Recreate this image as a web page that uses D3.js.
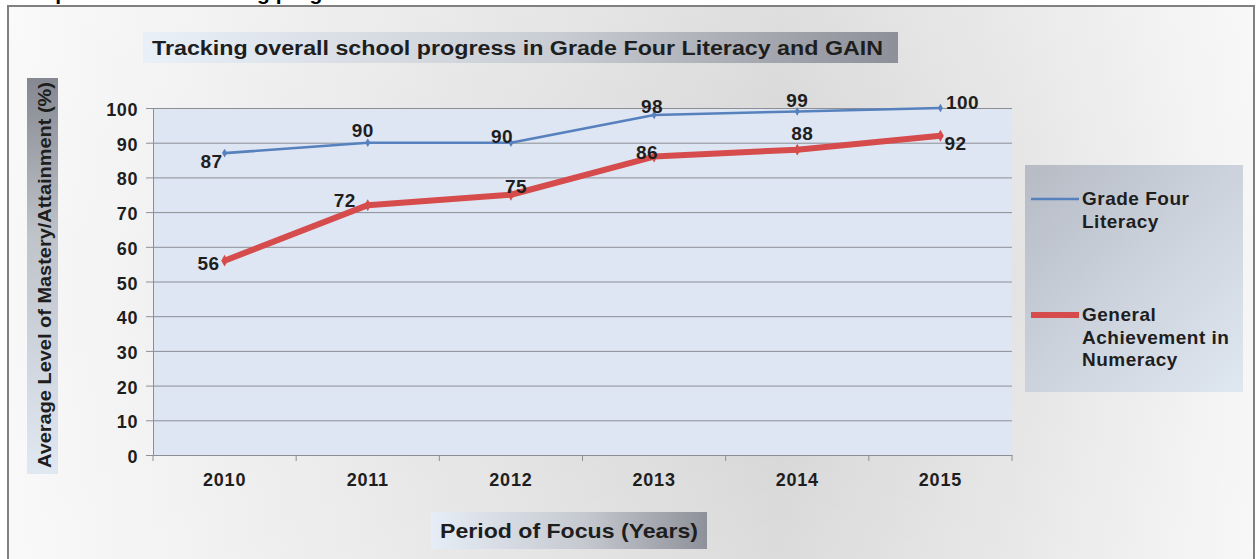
<!DOCTYPE html>
<html>
<head>
<meta charset="utf-8">
<script src="https://cdn.jsdelivr.net/npm/d3@7"></script>
<style>
  html, body { margin: 0; padding: 0; background: #ffffff; }
  svg { display: block; font-family: "Liberation Sans", Arial, sans-serif; }
</style>
</head>
<body>
<svg id="chart" width="1258" height="559"></svg>
<script>
// Chart data
const years = ["2010", "2011", "2012", "2013", "2014", "2015"];
const literacy = [87, 90, 90, 98, 99, 100];
const numeracy = [56, 72, 75, 86, 88, 92];
const yTicks = [0, 10, 20, 30, 40, 50, 60, 70, 80, 90, 100];
const seriesNames = ["Grade Four Literacy", "General Achievement in Numeracy"];

// Label nudges (dx, dy) relative to each point
const literacyLabelShift = [[-13, 15], [-5, -6], [-9, 0], [-2, -2], [0, -4], [22, 1]];
const numeracyLabelShift = [[-16, 9], [-23, 2], [5, -2], [-7, 2], [5, -10], [15, 14]];

const svg = d3.select("#chart");
const defs = svg.append("defs");

function linGrad(id, x2, y2, stops) {
  const g = defs.append("linearGradient").attr("id", id)
    .attr("x1", 0).attr("y1", 0).attr("x2", x2).attr("y2", y2);
  stops.forEach(s => g.append("stop").attr("offset", s[0]).attr("stop-color", s[1]));
}
linGrad("bgGrad", 1, 0, [["0%", "#f8f8f8"], ["20%", "#ececec"], ["62%", "#d3d3d3"], ["82%", "#e4e4e4"], ["100%", "#f6f6f6"]]);
linGrad("bgShade", 0, 1, [["0%", "rgba(255,255,255,0.25)"], ["50%", "rgba(255,255,255,0)"], ["100%", "rgba(255,255,255,0.2)"]]);
linGrad("titleGrad", 1, 0, [["0%", "#e9f0f8"], ["55%", "#c9ccd3"], ["100%", "#8d9098"]]);
linGrad("xTitleGrad", 1, 0, [["0%", "#e6edf6"], ["55%", "#c6c9d0"], ["100%", "#8e9199"]]);
linGrad("yTitleGrad", 0, 1, [["0%", "#858890"], ["40%", "#bfc3ca"], ["100%", "#e0e8f2"]]);
linGrad("legendGrad", 1, 1, [["0%", "#b6bbc4"], ["50%", "#ccd3dd"], ["100%", "#dfe7f1"]]);

// Page heading running off the top edge
svg.append("text")
  .attr("x", 19).attr("y", -0.5)
  .attr("font-size", 21).attr("font-weight", "bold").attr("fill", "#000")
  .text("Graph 4: Overall tracking progress");

// Chart frame and background
svg.append("rect").attr("x", 8).attr("y", 6).attr("width", 1246).attr("height", 560)
  .attr("fill", "url(#bgGrad)").attr("stroke", "#808080").attr("stroke-width", 2);
svg.append("rect").attr("x", 9).attr("y", 7).attr("width", 1244).attr("height", 552)
  .attr("fill", "url(#bgShade)");

// Chart title
svg.append("rect").attr("x", 143).attr("y", 32).attr("width", 755).attr("height", 31)
  .attr("fill", "url(#titleGrad)");
svg.append("text").attr("x", 152).attr("y", 54.5)
  .attr("font-size", 20).attr("font-weight", "bold").attr("fill", "#1e1e1e")
  .attr("textLength", 731).attr("lengthAdjust", "spacingAndGlyphs")
  .text("Tracking overall school progress in Grade Four Literacy and GAIN");

// Scales
const plot = { left: 153, right: 1012, top: 108, bottom: 455 };
const x = d3.scaleBand().domain(years).range([plot.left, plot.right]).padding(0);
const cx = d => x(d) + x.bandwidth() / 2;
const y = d3.scaleLinear().domain([0, 100]).range([plot.bottom, plot.top]);

// Plot area
svg.append("rect").attr("x", plot.left).attr("y", plot.top)
  .attr("width", plot.right - plot.left).attr("height", plot.bottom - plot.top)
  .attr("fill", "#dee5f3");

// Gridlines
svg.append("g").selectAll("line").data(yTicks.filter(t => t > 0)).join("line")
  .attr("x1", plot.left).attr("x2", plot.right)
  .attr("y1", d => y(d) + 0.5).attr("y2", d => y(d) + 0.5)
  .attr("stroke", "#8c8f96").attr("stroke-width", 1);

// Y axis
const yAxis = svg.append("g").attr("transform", `translate(${plot.left},0)`)
  .call(d3.axisLeft(y).tickValues(yTicks).tickSize(7).tickPadding(8));
yAxis.select(".domain").attr("stroke", "#8c8f96");
yAxis.selectAll(".tick line").attr("stroke", "#8c8f96");
yAxis.selectAll(".tick text").attr("font-size", 18).attr("font-weight", "bold")
  .attr("fill", "#1e1e1e").attr("font-family", "Liberation Sans, Arial, sans-serif")
  .attr("letter-spacing", 0.6).attr("dy", "0.42em");

// X axis
const xAxis = svg.append("g").attr("transform", `translate(0,${plot.bottom})`)
  .call(d3.axisBottom(x).tickSize(0).tickPadding(18));
xAxis.select(".domain").attr("stroke", "#8c8f96");
xAxis.selectAll(".tick text").attr("font-size", 18).attr("font-weight", "bold")
  .attr("fill", "#1e1e1e").attr("font-family", "Liberation Sans, Arial, sans-serif")
  .attr("letter-spacing", 0.8);
// category boundary ticks
const bounds = years.map(d => x(d)).concat([plot.right]);
svg.append("g").selectAll("line").data(bounds).join("line")
  .attr("x1", d => d).attr("x2", d => d)
  .attr("y1", plot.bottom).attr("y2", plot.bottom + 6)
  .attr("stroke", "#8c8f96");

// Axis titles
svg.append("rect").attr("x", 27).attr("y", 78).attr("width", 31).attr("height", 396)
  .attr("fill", "url(#yTitleGrad)");
svg.append("text").attr("transform", "translate(45,275) rotate(-90)")
  .attr("text-anchor", "middle").attr("dy", "0.36em")
  .attr("font-size", 18).attr("font-weight", "bold").attr("fill", "#1e1e1e")
  .attr("textLength", 386).attr("lengthAdjust", "spacingAndGlyphs")
  .text("Average Level of Mastery/Attainment (%)");

svg.append("rect").attr("x", 431).attr("y", 512).attr("width", 276).attr("height", 37)
  .attr("fill", "url(#xTitleGrad)");
svg.append("text").attr("x", 569).attr("y", 538)
  .attr("text-anchor", "middle")
  .attr("font-size", 21).attr("font-weight", "bold").attr("fill", "#1e1e1e")
  .attr("textLength", 258).attr("lengthAdjust", "spacingAndGlyphs")
  .text("Period of Focus (Years)");

// Series lines
const line = d3.line().x((d, i) => cx(years[i])).y(d => y(d));
const series = [
  { values: literacy, color: "#5681bd", width: 2.6, shift: literacyLabelShift },
  { values: numeracy, color: "#d64b4b", width: 6, shift: numeracyLabelShift }
];

series.slice().reverse().forEach(s => {
  svg.append("path").datum(s.values)
    .attr("fill", "none").attr("stroke", s.color).attr("stroke-width", s.width)
    .attr("stroke-linejoin", "round").attr("d", line);
  svg.append("g").selectAll("path").data(s.values).join("path")
    .attr("d", d3.symbol(d3.symbolDiamond, s.width > 4 ? 40 : 22))
    .attr("transform", (d, i) => `translate(${cx(years[i])},${y(d)})`)
    .attr("fill", s.color);
});

// Data labels
series.forEach(s => {
  svg.append("g").selectAll("text").data(s.values).join("text")
    .attr("x", (d, i) => cx(years[i]) + s.shift[i][0])
    .attr("y", (d, i) => y(d) + s.shift[i][1])
    .attr("text-anchor", "middle")
    .attr("font-size", 19).attr("font-weight", "bold").attr("fill", "#1e1e1e")
    .attr("letter-spacing", 0.4)
    .text(d => d);
});

// Legend
const lg = svg.append("g");
lg.append("rect").attr("x", 1025).attr("y", 165).attr("width", 218).attr("height", 227)
  .attr("fill", "url(#legendGrad)");
const legendLines = [["Grade Four", "Literacy"], ["General", "Achievement in", "Numeracy"]];
const legendY = [199, 315];
series.forEach((s, k) => {
  lg.append("line").attr("x1", 1031).attr("x2", 1079)
    .attr("y1", legendY[k]).attr("y2", legendY[k])
    .attr("stroke", s.color).attr("stroke-width", s.width);
  const t = lg.append("text").attr("x", 1082).attr("y", legendY[k] + 6)
    .attr("font-size", 19).attr("font-weight", "bold").attr("fill", "#1e1e1e")
    .attr("letter-spacing", 0.5);
  legendLines[k].forEach((ln, j) => {
    t.append("tspan").attr("x", 1082).attr("dy", j === 0 ? 0 : 22.5).text(ln);
  });
});
</script>
</body>
</html>
